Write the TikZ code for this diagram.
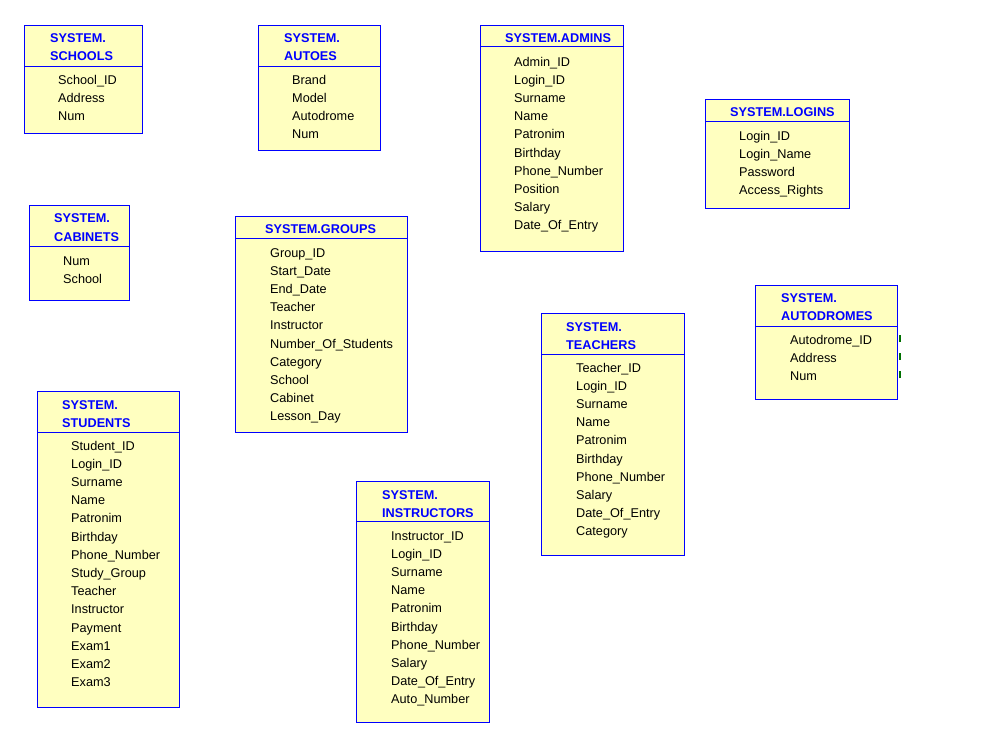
\documentclass[tikz,border=0pt]{standalone}
\usepackage{fontspec}
\setmainfont{Liberation Sans}
\usepackage{tikz}
\usetikzlibrary{positioning}
\definecolor{tablefill}{HTML}{FFFFC0}
\definecolor{tableblue}{HTML}{0000FF}
\definecolor{keygreen}{HTML}{007000}

\begin{document}
\begin{tikzpicture}[x=1pt,y=-1pt,
    tbl/.style={draw=tableblue,fill=tablefill,line width=1pt,anchor=north west,inner sep=0pt},
    ttl/.style={anchor=base west,inner sep=0pt,text=tableblue,font=\fontsize{12.7}{15}\selectfont\bfseries},
    fld/.style={anchor=base west,inner sep=0pt,font=\fontsize{12.7}{15}\selectfont},
    sep/.style={draw=tableblue,line width=1pt}]
    \useasboundingbox[fill=white] (0,0) rectangle (988,745);

    % SYSTEM.SCHOOLS
    \node[tbl,minimum width=118pt,minimum height=108pt] (schools) at (24,25) {};
    \draw[sep] (schools.west |- 0,66) -- (schools.east |- 0,66);
    \node[ttl] (schools-title1) at (50,42) {SYSTEM.};
    \node[ttl] (schools-title2) at (50,60) {SCHOOLS};
    \foreach \f [count=\i] in {School\_ID,Address,Num}
      \node[fld] (schools-\i) at (58,{84+18.2*(\i-1)}) {\f};

    % SYSTEM.AUTOES
    \node[tbl,minimum width=122pt,minimum height=125pt] (autoes) at (258,25) {};
    \draw[sep] (autoes.west |- 0,66) -- (autoes.east |- 0,66);
    \node[ttl] (autoes-title1) at (284,42) {SYSTEM.};
    \node[ttl] (autoes-title2) at (284,60) {AUTOES};
    \foreach \f [count=\i] in {Brand,Model,Autodrome,Num}
      \node[fld] (autoes-\i) at (292,{84+18.2*(\i-1)}) {\f};

    % SYSTEM.ADMINS
    \node[tbl,minimum width=143pt,minimum height=226pt] (admins) at (480,25) {};
    \draw[sep] (admins.west |- 0,46) -- (admins.east |- 0,46);
    \node[ttl] (admins-title) at (505,42) {SYSTEM.ADMINS};
    \foreach \f [count=\i] in {Admin\_ID,Login\_ID,Surname,Name,Patronim,Birthday,Phone\_Number,Position,Salary,Date\_Of\_Entry}
      \node[fld] (admins-\i) at (514,{66+18.2*(\i-1)}) {\f};

    % SYSTEM.LOGINS
    \node[tbl,minimum width=144pt,minimum height=109pt] (logins) at (705,99) {};
    \draw[sep] (logins.west |- 0,121) -- (logins.east |- 0,121);
    \node[ttl] (logins-title) at (730,116) {SYSTEM.LOGINS};
    \foreach \f [count=\i] in {Login\_ID,Login\_Name,Password,Access\_Rights}
      \node[fld] (logins-\i) at (739,{140+18.2*(\i-1)}) {\f};

    % SYSTEM.CABINETS
    \node[tbl,minimum width=100pt,minimum height=95pt] (cabinets) at (29,205) {};
    \draw[sep] (cabinets.west |- 0,246) -- (cabinets.east |- 0,246);
    \node[ttl] (cabinets-title1) at (54,222) {SYSTEM.};
    \node[ttl] (cabinets-title2) at (54,241) {CABINETS};
    \foreach \f [count=\i] in {Num,School}
      \node[fld] (cabinets-\i) at (63,{265+18.2*(\i-1)}) {\f};

    % SYSTEM.GROUPS
    \node[tbl,minimum width=172pt,minimum height=216pt] (groups) at (235,216) {};
    \draw[sep] (groups.west |- 0,238) -- (groups.east |- 0,238);
    \node[ttl] (groups-title) at (265,233) {SYSTEM.GROUPS};
    \foreach \f [count=\i] in {Group\_ID,Start\_Date,End\_Date,Teacher,Instructor,Number\_Of\_Students,Category,School,Cabinet,Lesson\_Day}
      \node[fld] (groups-\i) at (270,{257+18.2*(\i-1)}) {\f};

    % SYSTEM.TEACHERS
    \node[tbl,minimum width=143pt,minimum height=242pt] (teachers) at (541,313) {};
    \draw[sep] (teachers.west |- 0,354) -- (teachers.east |- 0,354);
    \node[ttl] (teachers-title1) at (566,331) {SYSTEM.};
    \node[ttl] (teachers-title2) at (566,349) {TEACHERS};
    \foreach \f [count=\i] in {Teacher\_ID,Login\_ID,Surname,Name,Patronim,Birthday,Phone\_Number,Salary,Date\_Of\_Entry,Category}
      \node[fld] (teachers-\i) at (576,{372+18.2*(\i-1)}) {\f};

    % SYSTEM.AUTODROMES
    \node[tbl,minimum width=142pt,minimum height=114pt] (autodromes) at (755,285) {};
    \draw[sep] (autodromes.west |- 0,326) -- (autodromes.east |- 0,326);
    \node[ttl] (autodromes-title1) at (781,302) {SYSTEM.};
    \node[ttl] (autodromes-title2) at (781,320) {AUTODROMES};
    \foreach \f [count=\i] in {Autodrome\_ID,Address,Num}
      \node[fld] (autodromes-\i) at (790,{344+18.2*(\i-1)}) {\f};
    \foreach \i in {1,2,3}
      \draw[keygreen,line width=1.5pt] ([xshift=2pt]autodromes.east |- autodromes-\i.base) ++(0,-2) -- ++(0,-7);

    % SYSTEM.STUDENTS
    \node[tbl,minimum width=142pt,minimum height=316pt] (students) at (37,391) {};
    \draw[sep] (students.west |- 0,432) -- (students.east |- 0,432);
    \node[ttl] (students-title1) at (62,409) {SYSTEM.};
    \node[ttl] (students-title2) at (62,427) {STUDENTS};
    \foreach \f [count=\i] in {Student\_ID,Login\_ID,Surname,Name,Patronim,Birthday,Phone\_Number,Study\_Group,Teacher,Instructor,Payment,Exam1,Exam2,Exam3}
      \node[fld] (students-\i) at (71,{450+18.2*(\i-1)}) {\f};

    % SYSTEM.INSTRUCTORS
    \node[tbl,minimum width=133pt,minimum height=241pt] (instructors) at (356,481) {};
    \draw[sep] (instructors.west |- 0,521) -- (instructors.east |- 0,521);
    \node[ttl] (instructors-title1) at (382,499) {SYSTEM.};
    \node[ttl] (instructors-title2) at (382,517) {INSTRUCTORS};
    \foreach \f [count=\i] in {Instructor\_ID,Login\_ID,Surname,Name,Patronim,Birthday,Phone\_Number,Salary,Date\_Of\_Entry,Auto\_Number}
      \node[fld] (instructors-\i) at (391,{540+18.2*(\i-1)}) {\f};
  \end{tikzpicture}
\end{document}
